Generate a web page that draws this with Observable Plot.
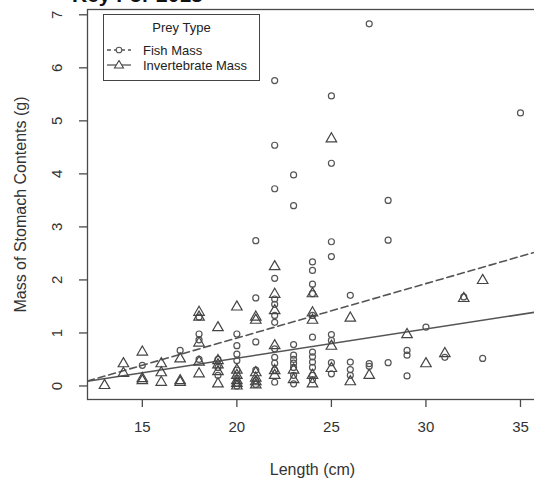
<!DOCTYPE html>
<html><head><meta charset="utf-8">
<script src="https://cdn.jsdelivr.net/npm/d3@7"></script>
<script src="https://cdn.jsdelivr.net/npm/@observablehq/plot@0.6"></script>
<style>
html,body{margin:0;padding:0;background:#fff;overflow:hidden}
#wrap{position:relative;width:534px;height:484px;overflow:hidden;font-family:"Liberation Sans",Arial,sans-serif}
#wrap svg{max-width:none !important;display:block}
#title{position:absolute;left:72px;top:-16px;font-weight:bold;font-size:21px;color:#111;line-height:1;white-space:nowrap}
#legend{position:absolute;left:103px;top:14px;width:157px;height:67px;border:1.3px solid #444;background:#fff;box-sizing:border-box;font-size:13px;color:#222}
#legend span{position:absolute;white-space:nowrap;line-height:1}
#legend svg{position:absolute;left:0;top:0}
</style>
</head><body>
<div id="wrap">
<div id="chart"></div>
<div id="title">Key For 2013</div>
<div id="legend"></div>
</div>
<script>
// ---- data ----
const xTicks = [15, 20, 25, 30, 35];
const yTicks = [0, 1, 2, 3, 4, 5, 6, 7];

const fishLength = [15,17,18,18,18,18,19,19,19,
  20,20,20,20,20,20,20,20,
  21,21,21,21,21,21,
  22,22,22,22,22,22,22,22,22,22,22,22,22,
  23,23,23,23,23,23,23,23,23,
  24,24,24,24,24,24,24,24,24,24,24,24,
  25,25,25,25,25,25,25,25,
  26,26,26,26,
  27,27,27,
  28,28,28,
  29,29,29,
  30,31,32,33,35];
const fishMass = [0.39,0.67,1.30,0.98,0.87,0.50,0.50,0.35,0.20,
  0.98,0.76,0.60,0.48,0.30,0.15,0.05,0.00,
  2.74,1.66,0.83,0.30,0.10,0.03,
  5.76,4.54,3.72,2.03,1.64,1.54,1.33,1.20,0.70,0.54,0.43,0.30,0.07,
  3.98,3.40,0.78,0.58,0.50,0.43,0.35,0.20,0.04,
  2.34,2.18,1.92,1.74,1.33,0.92,0.64,0.55,0.45,0.35,0.20,0.12,
  5.47,4.20,2.72,2.44,0.97,0.86,0.44,0.23,
  1.71,0.45,0.31,0.20,
  6.83,0.42,0.37,
  3.50,2.75,0.44,
  0.67,0.58,0.19,
  1.11,0.54,1.68,0.52,5.15];

const invLength = [13,14,14,15,15,15,16,16,16,17,17,17,
  18,18,18,18,18,
  19,19,19,19,19,
  20,20,20,20,20,20,
  21,21,21,21,21,21,
  22,22,22,22,22,22,
  23,23,
  24,24,24,24,24,
  25,25,25,
  26,26,27,29,30,31,32,33];
const invMass = [0.01,0.42,0.24,0.64,0.14,0.10,0.42,0.25,0.07,0.51,0.10,0.07,
  1.39,1.30,0.81,0.45,0.23,
  1.10,0.48,0.40,0.27,0.04,
  1.49,0.30,0.20,0.10,0.05,0.00,
  1.30,1.24,0.25,0.15,0.08,0.02,
  2.25,1.73,1.42,0.76,0.29,0.20,
  0.30,0.12,
  1.74,1.38,1.24,0.20,0.04,
  4.66,0.75,0.33,
  1.28,0.08,0.20,0.97,0.42,0.61,1.65,1.99];

// fitted regression lines (intercept, slope)
const fishFit = [-1.15, 0.1027];
const invFit = [-0.576, 0.055];
const fitRange = [12.1, 35.9];

const legendTitle = "Prey Type";
const legendLabels = ["Fish Mass", "Invertebrate Mass"];
const xLabel = "Length (cm)";
const yLabel = "Mass of Stomach Contents (g)";

// ---- build tables ----
const fish = fishLength.map((l, i) => ({length: l, mass: fishMass[i]}));
const inv = invLength.map((l, i) => ({length: l, mass: invMass[i]}));
const fishLine = fitRange.map(x => ({length: x, mass: fishFit[0] + fishFit[1] * x}));
const invLine = fitRange.map(x => ({length: x, mass: invFit[0] + invFit[1] * x}));

const ink = "#4a4a4a";
const chart = Plot.plot({
  width: 545, height: 484,
  marginLeft: 87, marginRight: 8, marginTop: 9, marginBottom: 85,
  x: {domain: [12.1, 35.9]},
  y: {domain: [-0.255, 7.1]},
  style: {fontFamily: "'Liberation Sans', Arial, sans-serif", color: "#333", background: "white"},
  marks: [
    Plot.axisX({ticks: xTicks, tickSize: 8, tickPadding: 14, fontSize: 15, label: null, stroke: ink, strokeWidth: 1.3}),
    Plot.axisY({ticks: yTicks, tickSize: 8, tickPadding: 18, tickRotate: -90, fontSize: 15, label: null, stroke: ink, strokeWidth: 1.3}),
    Plot.line(fishLine, {x: "length", y: "mass", stroke: "#555", strokeWidth: 1.6, strokeDasharray: "7,4", clip: true}),
    Plot.line(invLine, {x: "length", y: "mass", stroke: "#555", strokeWidth: 1.6, clip: true}),
    Plot.dot(fish, {x: "length", y: "mass", symbol: "circle", r: 3, stroke: "#555", fill: "none", strokeWidth: 1.2}),
    Plot.dot(inv, {x: "length", y: "mass", symbol: "triangle", r: 3.9, stroke: "#444", fill: "none", strokeWidth: 1.2}),
    Plot.frame({stroke: ink, strokeWidth: 1.3}),
    Plot.text([xLabel], {frameAnchor: "bottom", dy: 75, text: d => d, fontSize: 16, fill: "#333"}),
    Plot.text([yLabel], {frameAnchor: "left", dx: -67, rotate: -90, textAnchor: "middle", text: d => d, fontSize: 16, fill: "#333"})
  ]
});
document.getElementById("chart").appendChild(chart);

// ---- legend (HTML, like R's legend box) ----
const lg = document.getElementById("legend");
lg.innerHTML = `
<svg width="40" height="67">
  <line x1="3" x2="27" y1="35" y2="35" stroke="#555" stroke-width="1.3" stroke-dasharray="4,3"/>
  <circle cx="15" cy="35" r="2.8" fill="white" stroke="#555" stroke-width="1.1"/>
  <line x1="3" x2="27" y1="50" y2="50" stroke="#555" stroke-width="1.3"/>
  <path d="M15,45.5 L19.5,53 L10.5,53 Z" fill="white" stroke="#444" stroke-width="1.1"/>
</svg>
<span style="left:0;width:155px;text-align:center;top:6px">${legendTitle}</span>
<span style="left:39px;top:29px">${legendLabels[0]}</span>
<span style="left:39px;top:44px">${legendLabels[1]}</span>`;
</script>
</body></html>
